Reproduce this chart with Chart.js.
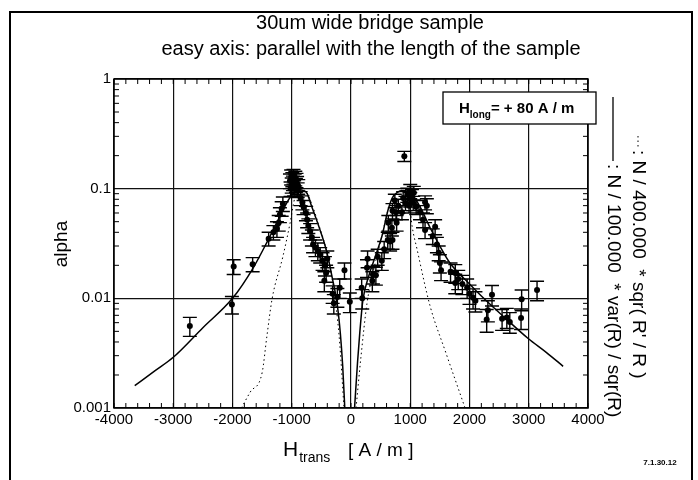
<!DOCTYPE html>
<html>
<head>
<meta charset="utf-8">
<script src="https://cdn.jsdelivr.net/npm/chart.js@4.4.1/dist/chart.umd.min.js"></script>
<style>
  body { margin: 0; background: #fff; }
  canvas { display: block; }
</style>
</head>
<body>
<canvas id="alphaChart" width="698" height="480" style="width:698px;height:480px"></canvas>
<script>
// measured points: transverse field [A/m], alpha, error on alpha
var hTrans = [-2720, -1980, -2010, -1660, -1390, -1310, -1250, -1220, -1200, -1170, -1150,
  -1030, -1010, -1000, -990, -980, -970, -960, -950, -940, -930, -920, -910, -900, -890, -1020,
  -850, -820, -800, -760, -740, -720, -690, -660, -640, -600, -560, -520, -480, -440, -420, -450, -400,
  -110, -190, -230, -290, -20, -310,
  190, 180, 270, 280, 360, 370, 420, 450, 520, 560, 620, 660, 630, 700, 690, 770, 760, 700, 740,
  800, 860, 880, 920, 950, 980, 1000, 1030, 1050, 1000, 1060, 1100, 1165, 1215, 1250, 1280, 1250,
  1380, 1420, 1450, 1480, 1500, 1520, 1680, 1760, 1760, 1810, 1880, 1960, 2000, 2060, 2100,
  2380, 2310, 2290, 2550, 2630, 2680, 2880, 2870, 3140, 900];
var alpha = [0.0056, 0.0195, 0.0088, 0.0205, 0.035, 0.040, 0.043, 0.049, 0.058, 0.066, 0.073,
  0.118, 0.128, 0.108, 0.122, 0.113, 0.130, 0.102, 0.118, 0.125, 0.108, 0.120, 0.112, 0.098, 0.105, 0.100,
  0.082, 0.075, 0.068, 0.060, 0.052, 0.046, 0.041, 0.036, 0.031, 0.029, 0.027, 0.025, 0.022, 0.020, 0.017, 0.0145, 0.023,
  0.018, 0.0125, 0.0103, 0.0090, 0.0093, 0.0110,
  0.0100, 0.0125, 0.019, 0.023, 0.0145, 0.0165, 0.0162, 0.024, 0.022, 0.028, 0.034, 0.033, 0.049, 0.034, 0.044, 0.049, 0.061, 0.063, 0.078,
  0.070, 0.061, 0.082, 0.074, 0.088, 0.070, 0.080, 0.085, 0.074, 0.095, 0.092, 0.068, 0.061, 0.052, 0.075, 0.070, 0.042,
  0.037, 0.045, 0.031, 0.026, 0.021, 0.018, 0.0175, 0.017, 0.0138, 0.0150, 0.0135, 0.0125, 0.0110, 0.0101, 0.0095,
  0.0108, 0.0078, 0.0064, 0.0065, 0.0067, 0.0061, 0.0098, 0.0066, 0.0119, 0.198];
var alphaErr = [0.0011, 0.003, 0.0016, 0.003, 0.005, 0.006, 0.007, 0.008, 0.009, 0.010, 0.011,
  0.018, 0.020, 0.017, 0.018, 0.017, 0.020, 0.016, 0.018, 0.019, 0.016, 0.018, 0.017, 0.015, 0.016, 0.015,
  0.012, 0.011, 0.010, 0.009, 0.008, 0.007, 0.007, 0.006, 0.005, 0.005, 0.005, 0.004, 0.004, 0.004, 0.003, 0.003, 0.004,
  0.003, 0.0025, 0.002, 0.0018, 0.0019, 0.002,
  0.002, 0.0025, 0.0035, 0.004, 0.003, 0.003, 0.003, 0.004, 0.004, 0.005, 0.006, 0.006, 0.008, 0.006, 0.007, 0.008, 0.009, 0.010, 0.011,
  0.010, 0.009, 0.012, 0.011, 0.013, 0.010, 0.012, 0.013, 0.011, 0.014, 0.013, 0.010, 0.009, 0.008, 0.011, 0.011, 0.007,
  0.006, 0.007, 0.005, 0.004, 0.004, 0.0035, 0.0035, 0.0033, 0.0028, 0.003, 0.0027, 0.0025, 0.0022, 0.0021, 0.002,
  0.0023, 0.0017, 0.0015, 0.0014, 0.0014, 0.0013, 0.0021, 0.0014, 0.0024, 0.021];

// model curves
var solidLeftH = [-3650, -3300, -3000, -2500, -2000, -1650, -1400, -1200, -1050, -950, -880, -800, -745, -660, -523, -405, -320, -236, -180, -140, -105];
var solidLeftA = [0.0016, 0.0022, 0.0029, 0.0054, 0.0100, 0.019, 0.034, 0.056, 0.080, 0.093, 0.098, 0.096, 0.091, 0.068, 0.042, 0.026, 0.0157, 0.0091, 0.0048, 0.0024, 0.001];
var solidRightH = [60, 110, 150, 200, 300, 420, 523, 625, 700, 775, 880, 1030, 1180, 1335, 1500, 1670, 2000, 2200, 2630, 2990, 3300, 3580];
var solidRightA = [0.001, 0.0026, 0.0050, 0.0096, 0.016, 0.025, 0.037, 0.064, 0.083, 0.092, 0.096, 0.089, 0.066, 0.044, 0.030, 0.021, 0.0135, 0.0105, 0.0064, 0.0043, 0.0032, 0.0024];
var dotLeftH = [-1850, -1700, -1500, -1420, -1330, -1150, -1030, -945, -880, -800, -745, -660, -550, -420, -300, -200, -118];
var dotLeftA = [0.001, 0.0014, 0.0021, 0.0045, 0.010, 0.024, 0.048, 0.084, 0.097, 0.097, 0.092, 0.072, 0.048, 0.028, 0.013, 0.0045, 0.001];
var dotRightH = [85, 170, 270, 400, 523, 625, 775, 880, 950, 990, 1030, 1115, 1335, 1600, 1925];
var dotRightA = [0.001, 0.003, 0.009, 0.020, 0.037, 0.064, 0.092, 0.097, 0.092, 0.070, 0.046, 0.028, 0.0085, 0.0032, 0.001];

var xTicks = [-4000, -3000, -2000, -1000, 0, 1000, 2000, 3000, 4000];
var xTickLabels = ['-4000', '-3000', '-2000', '-1000', '0', '1000', '2000', '3000', '4000'];
var yTicks = [0.001, 0.01, 0.1, 1];
var yTickLabels = ['0.001', '0.01', '0.1', '1'];

var FONT = '"Liberation Sans", Arial, Helvetica, sans-serif';

function pts(xs, ys) {
  return xs.map(function (x, i) { return { x: x, y: ys[i] }; });
}
function isDecade(v) {
  var l = Math.log10(v);
  return Math.abs(l - Math.round(l)) < 1e-6;
}
function curve(xs, ys, dashed) {
  return {
    type: 'line',
    data: pts(xs, ys),
    borderColor: '#000',
    borderWidth: dashed ? 1 : 1.5,
    borderDash: dashed ? [1.5, 3] : [],
    pointRadius: 0,
    cubicInterpolationMode: 'monotone',
    fill: false
  };
}

// error bars drawn through the chart scales
var errorBars = {
  id: 'errorBars',
  beforeDatasetsDraw: function (chart) {
    var c = chart.ctx, xs = chart.scales.x, ys = chart.scales.y;
    c.save();
    c.strokeStyle = '#000';
    c.lineWidth = 1.4;
    for (var i = 0; i < hTrans.length; i++) {
      var px = xs.getPixelForValue(hTrans[i]);
      var top = ys.getPixelForValue(alpha[i] + alphaErr[i]);
      var bot = ys.getPixelForValue(Math.max(alpha[i] - alphaErr[i], 0.0011));
      c.beginPath();
      c.moveTo(px, top); c.lineTo(px, bot);
      c.moveTo(px - 7, top); c.lineTo(px + 7, top);
      c.moveTo(px - 7, bot); c.lineTo(px + 7, bot);
      c.stroke();
    }
    c.restore();
  }
};

// frame, minor ticks and all the annotation text
var decorations = {
  id: 'decorations',
  afterDraw: function (chart) {
    var c = chart.ctx, a = chart.chartArea, xs = chart.scales.x, ys = chart.scales.y;
    c.save();
    c.strokeStyle = '#000';

    // minor ticks on all four sides
    c.lineWidth = 1;
    c.beginPath();
    for (var v = -4000; v <= 4000; v += 200) {
      var px = xs.getPixelForValue(v);
      c.moveTo(px, a.bottom); c.lineTo(px, a.bottom - 5);
      c.moveTo(px, a.top); c.lineTo(px, a.top + 5);
    }
    [0.001, 0.01, 0.1].forEach(function (d) {
      for (var k = 2; k <= 9; k++) {
        var py = ys.getPixelForValue(k * d);
        c.moveTo(a.left, py); c.lineTo(a.left + 5, py);
        c.moveTo(a.right, py); c.lineTo(a.right - 5, py);
      }
    });
    c.stroke();

    c.lineWidth = 1.5;
    c.strokeRect(a.left, a.top, a.right - a.left, a.bottom - a.top);

    // outer frame
    c.lineWidth = 2;
    c.strokeRect(10, 12, 682, 474);

    c.fillStyle = '#000';
    c.textBaseline = 'middle';
    c.textAlign = 'center';
    c.font = '20px ' + FONT;
    c.fillText('30um wide bridge sample', 370, 23);
    c.fillText('easy axis: parallel with the length of the sample', 371, 49);

    // y title
    c.save();
    c.translate(62, 244);
    c.rotate(-Math.PI / 2);
    c.font = '19px ' + FONT;
    c.fillText('alpha', 0, 0);
    c.restore();

    // x title with subscript
    c.textAlign = 'left';
    c.textBaseline = 'alphabetic';
    c.font = '21px ' + FONT;
    c.fillText('H', 283, 456);
    var hw = c.measureText('H').width;
    c.font = '14px ' + FONT;
    c.fillText('trans', 283 + hw + 1, 462);
    c.font = '19px ' + FONT;
    c.fillText('[ A / m ]', 348, 456);

    // field box
    c.fillStyle = '#fff';
    c.fillRect(443, 92, 153, 32);
    c.lineWidth = 1.3;
    c.strokeRect(443, 92, 153, 32);
    c.fillStyle = '#000';
    c.font = 'bold 15px ' + FONT;
    c.fillText('H', 459, 113);
    var x0 = 459 + c.measureText('H').width;
    c.font = 'bold 10px ' + FONT;
    c.fillText('long', x0, 118);
    x0 += c.measureText('long').width;
    c.font = 'bold 15px ' + FONT;
    c.fillText('= + 80 A / m', x0, 113);

    // rotated legend on the right
    c.lineWidth = 1.3;
    c.beginPath();
    c.moveTo(613, 97); c.lineTo(613, 161);
    c.stroke();
    c.save();
    c.lineWidth = 1;
    c.setLineDash([1.5, 3]);
    c.beginPath();
    c.moveTo(638, 136); c.lineTo(638, 148);
    c.stroke();
    c.restore();
    c.font = '19px ' + FONT;
    c.textBaseline = 'middle';
    c.save();
    c.translate(613, 164);
    c.rotate(Math.PI / 2);
    c.fillText(': N / 100.000  * var(R) / sqr(R)', 0, 0);
    c.restore();
    c.save();
    c.translate(638, 150);
    c.rotate(Math.PI / 2);
    c.fillText(': N / 400.000  * sqr( R\' / R )', 0, 0);
    c.restore();

    c.textAlign = 'center';
    c.font = 'bold 8px ' + FONT;
    c.fillText('7.1.30.12', 660, 463);
    c.restore();
  }
};

var ctx = document.getElementById('alphaChart');
var alphaChart = new Chart(ctx, {
  type: 'scatter',
  data: {
    datasets: [
      {
        data: pts(hTrans, alpha),
        backgroundColor: '#000',
        borderColor: '#000',
        pointRadius: 3,
        pointBorderWidth: 0
      },
      curve(solidLeftH, solidLeftA, false),
      curve(solidRightH, solidRightA, false),
      curve(dotLeftH, dotLeftA, true),
      curve(dotRightH, dotRightA, true)
    ]
  },
  options: {
    responsive: false,
    animation: false,
    layout: { padding: { left: 0, right: 110, top: 79, bottom: 0 } },
    plugins: { legend: { display: false }, tooltip: { enabled: false } },
    scales: {
      x: {
        type: 'linear',
        min: -4000,
        max: 4000,
        afterFit: function (s) { s.height = 72; },
        afterBuildTicks: function (s) { s.ticks = xTicks.map(function (v) { return { value: v }; }); },
        ticks: {
          color: '#000',
          font: { family: FONT, size: 15 },
          maxRotation: 0,
          autoSkip: false,
          padding: 3,
          callback: function (v) { return xTickLabels[xTicks.indexOf(v)]; }
        },
        grid: { color: '#111', lineWidth: 1.2, drawTicks: false },
        border: { display: false }
      },
      y: {
        type: 'logarithmic',
        min: 0.001,
        max: 1,
        afterFit: function (s) { s.width = 114; },
        afterBuildTicks: function (s) { s.ticks = yTicks.map(function (v) { return { value: v }; }); },
        ticks: {
          color: '#000',
          font: { family: FONT, size: 15 },
          autoSkip: false,
          padding: 3,
          callback: function (v) {
            for (var i = 0; i < yTicks.length; i++) {
              if (Math.abs(yTicks[i] - v) / yTicks[i] < 1e-6) return yTickLabels[i];
            }
            return '';
          }
        },
        grid: {
          color: function (c) { return isDecade(c.tick.value) ? '#111' : 'rgba(0,0,0,0)'; },
          lineWidth: 1.2,
          drawTicks: false
        },
        border: { display: false }
      }
    }
  },
  plugins: [errorBars, decorations]
});
</script>
</body>
</html>
